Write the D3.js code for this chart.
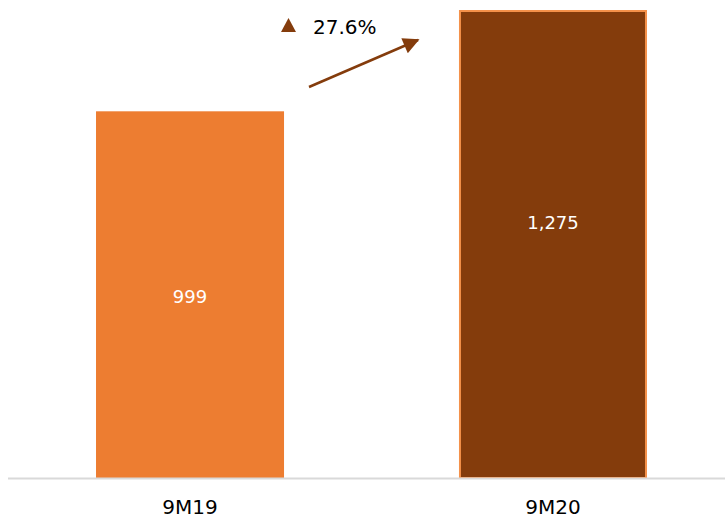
<!DOCTYPE html>
<html><head><meta charset="utf-8">
<script src="https://cdn.jsdelivr.net/npm/d3@7"></script>
<style>html,body{margin:0;padding:0;background:#fff;}svg{display:block;}</style>
</head><body>
<svg id="c" width="725" height="518"></svg>
<script>
const categories = ["9M19", "9M20"];
const values = [999, 1275];
const valueLabels = ["999", "1,275"];
const growthLabel = "27.6%";
const fills = ["#ED7D31", "#843C0C"];
const strokes = ["none", "#F4914A"];

const svg = d3.select("#c");
const font = "'DejaVu Sans', sans-serif";

const x = d3.scaleBand().domain(categories).range([8, 735]).paddingInner(0.482).paddingOuter(0.2425);
const y = d3.scaleLinear().domain([0, 1275]).range([478, 10]);

// bars
svg.selectAll("rect.bar").data(values).join("rect")
  .attr("class", "bar")
  .attr("x", (d, i) => x(categories[i]) + (i === 1 ? 1 : 0))
  .attr("width", (d, i) => x.bandwidth() - (i === 1 ? 2 : 0))
  .attr("y", (d, i) => y(d) + (i === 1 ? 1 : 0))
  .attr("height", (d, i) => y(0) - y(d) - (i === 1 ? 1 : 0))
  .attr("fill", (d, i) => fills[i])
  .attr("stroke", (d, i) => strokes[i])
  .attr("stroke-width", 2);

// axis baseline
const xAxis = d3.axisBottom(x).tickSize(0).tickPadding(22);
const gx = svg.append("g").attr("transform", `translate(0,${y(0)})`).call(xAxis);
gx.select(".domain").attr("d", "M8,0.5H725").attr("stroke", "#D9D9D9").attr("stroke-width", 2);
gx.selectAll("text").attr("font-family", font).attr("font-size", 20).attr("fill", "#000");

// value labels
svg.selectAll("text.val").data(values).join("text")
  .attr("class", "val")
  .attr("x", (d, i) => x(categories[i]) + x.bandwidth() / 2)
  .attr("y", (d, i) => i === 0 ? y(d / 2) + 8 : y(d * 0.547) + 7)
  .attr("text-anchor", "middle")
  .attr("font-family", font).attr("font-size", 18).attr("fill", "#fff")
  .text((d, i) => valueLabels[i]);

// growth annotation
const brown = "#843C0C";
svg.append("defs").append("marker")
  .attr("id", "ah").attr("viewBox", "0 0 10 10").attr("refX", 9).attr("refY", 5)
  .attr("markerWidth", 7.5).attr("markerHeight", 6.5).attr("markerUnits", "strokeWidth")
  .attr("orient", "auto")
  .append("path").attr("d", "M0,0L10,5L0,10Z").attr("fill", brown);

svg.append("line")
  .attr("x1", 309).attr("y1", 87).attr("x2", 418).attr("y2", 40)
  .attr("stroke", brown).attr("stroke-width", 2.5).attr("marker-end", "url(#ah)");

svg.append("path").attr("d", "M288.5,18L296,32H281Z").attr("fill", brown);
svg.append("text").attr("x", 313).attr("y", 34)
  .attr("font-family", font).attr("font-size", 20).attr("fill", "#000")
  .text(growthLabel);
</script>
</body></html>
